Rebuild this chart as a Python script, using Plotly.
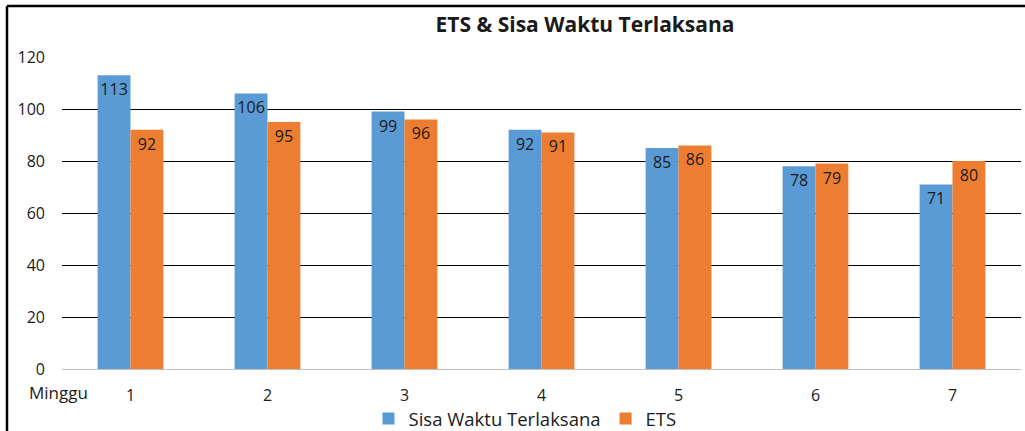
import plotly.graph_objects as go

# Weekly data
minggu = ["1", "2", "3", "4", "5", "6", "7"]
sisa_waktu = [113, 106, 99, 92, 85, 78, 71]
ets = [92, 95, 96, 91, 86, 79, 80]
y_ticks = [0, 20, 40, 60, 80, 100, 120]

BLUE = "#5B9BD5"
ORANGE = "#ED7D31"
FONT = "Open Sans"
TXT = "#1a1a1a"

W, H = 1025, 431
ML, MR, MT, MB = 62, 4, 57, 62
PW, PH = W - ML - MR, H - MT - MB


def px_to_paper_x(px):
    return (px - ML) / PW


def px_to_paper_y(py):
    return (H - MB - py) / PH


fig = go.Figure()
for name, vals, color in [("Sisa Waktu Terlaksana", sisa_waktu, BLUE),
                          ("ETS", ets, ORANGE)]:
    fig.add_trace(go.Bar(
        x=minggu, y=vals, name=name,
        marker=dict(color=color, line=dict(width=0)),
        text=[str(v) for v in vals],
        textposition="inside", insidetextanchor="end",
        textangle=0, constraintext="none",
        textfont=dict(family=FONT, size=16, color=TXT),
        hoverinfo="x+y+name",
    ))

fig.update_layout(
    width=W, height=H,
    margin=dict(l=ML, r=MR, t=MT, b=MB, autoexpand=False),
    paper_bgcolor="white", plot_bgcolor="white",
    barmode="group", bargap=0.52, bargroupgap=0,
    font=dict(family=FONT, size=16, color=TXT),
    title=dict(text="<b>ETS & Sisa Waktu Terlaksana</b>",
               x=585 / W, xanchor="center", xref="container",
               y=1 - 25 / H, yanchor="middle", yref="container",
               font=dict(family=FONT, size=21, color=TXT)),
    showlegend=True,
    legend=dict(orientation="h", x=px_to_paper_x(525), xanchor="center",
                y=px_to_paper_y(419), yanchor="middle",
                bgcolor="rgba(0,0,0,0)",
                font=dict(family=FONT, size=18.5, color=TXT),
                itemwidth=30, tracegroupgap=0),
    xaxis=dict(type="category", showgrid=False, zeroline=False,
               showline=True, linecolor="#bfbfbf", linewidth=1,
               ticks="", ticklabelstandoff=12,
               tickfont=dict(family=FONT, size=16, color=TXT)),
    yaxis=dict(range=[0, 120], tickvals=y_ticks, showgrid=True,
               gridcolor="#000000", gridwidth=1.2, zeroline=False,
               showline=False, ticks="", ticklabelstandoff=16,
               tickfont=dict(family=FONT, size=16, color=TXT)),
    annotations=[dict(text="Minggu", xref="paper", yref="paper",
                      x=px_to_paper_x(27), y=px_to_paper_y(392),
                      xanchor="left", yanchor="middle", showarrow=False,
                      font=dict(family=FONT, size=17, color=TXT))],
    shapes=[
        dict(type="line", xref="paper", yref="paper",
             x0=px_to_paper_x(7), x1=px_to_paper_x(7),
             y0=px_to_paper_y(6), y1=px_to_paper_y(H + 5),
             line=dict(color="black", width=2.5)),
        dict(type="line", xref="paper", yref="paper",
             x0=px_to_paper_x(7), x1=px_to_paper_x(W + 5),
             y0=px_to_paper_y(6), y1=px_to_paper_y(6),
             line=dict(color="black", width=2.5)),
    ],
)

fig.write_html("out.html")
